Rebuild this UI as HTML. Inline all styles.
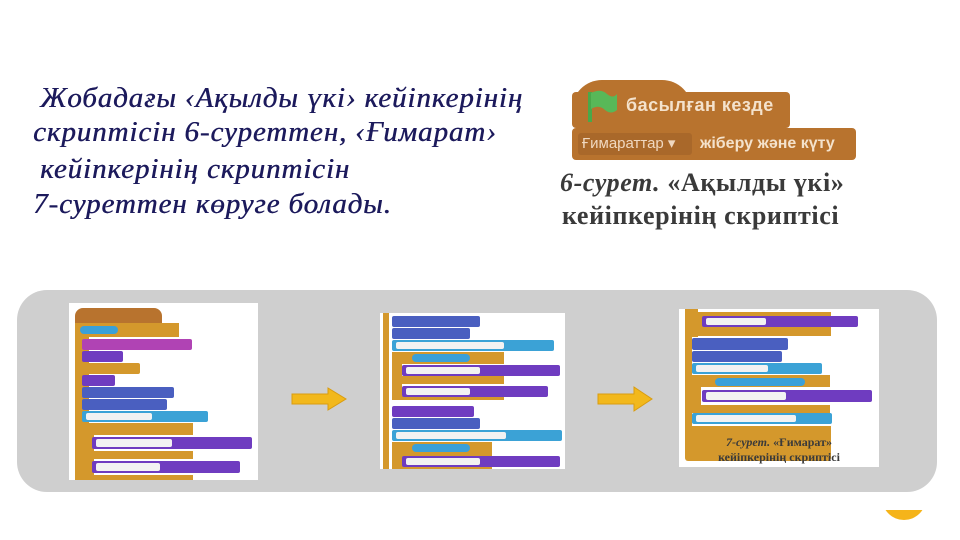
<!DOCTYPE html>
<html><head><meta charset="utf-8"><style>
body{margin:0;width:960px;height:540px;background:#fff;position:relative;overflow:hidden;font-family:"Liberation Sans",sans-serif}
div{position:absolute;box-sizing:border-box}
.t{font-family:"Liberation Serif",serif;font-style:italic;color:#1c1a5c;font-size:29px;white-space:nowrap;letter-spacing:0.9px;text-shadow:0.5px 0 0 #1c1a5c}
.b{border-radius:2px}
.o{background:#d4982c}.br{background:#b8732e}.p{background:#6f3cc0}.m{background:#b043b4}.bl{background:#4a5fc0}.lb{background:#3ba2d6}
.w{background:#f2f2f2;border-radius:2px}
.cap{font-family:"Liberation Serif",serif;color:#3a3a3a;white-space:nowrap}
</style></head><body>
<div class="t" style="left:40px;top:82px">Жобадағы ‹Ақылды үкі› кейіпкерінің</div>
<div class="t" style="left:33px;top:116px">скриптісін 6-суреттен, ‹Ғимарат›</div>
<div class="t" style="left:40px;top:153px">кейіпкерінің скриптісін</div>
<div class="t" style="left:33px;top:188px">7-суреттен көруге болады.</div>

<!-- top right blocks -->
<div style="left:572px;top:80px;width:120px;height:30px;background:#b8732e;border-radius:40px 40px 0 0"></div>
<div style="left:572px;top:92px;width:218px;height:36px;background:#b8732e;border-radius:4px"></div>
<svg style="position:absolute;left:585px;top:88px" width="34" height="36"><path d="M5 4 L5 34" stroke="#4aa84a" stroke-width="4"/><path d="M6 5 Q16 0 22 6 Q28 11 32 6 L32 22 Q26 27 20 22 Q14 16 6 21 Z" fill="#58b858"/></svg>
<div style="left:626px;top:95px;color:#f4e2cc;font-weight:bold;font-size:18px;letter-spacing:0.5px">басылған кезде</div>
<div style="left:572px;top:128px;width:284px;height:32px;background:#b8732e;border-radius:4px"></div>
<div style="left:578px;top:133px;width:114px;height:22px;background:#a9682a;border-radius:3px;color:#f0d8c0;font-size:15px;padding-left:4px;line-height:22px">Ғимараттар ▾</div>
<div style="left:700px;top:135px;color:#f4e2cc;font-weight:bold;font-size:16px">жіберу және күту</div>
<div class="cap" style="left:560px;top:168px;font-size:26px;font-weight:bold;letter-spacing:0.6px"><i>6-сурет.</i> «Ақылды үкі»</div>
<div class="cap" style="left:562px;top:201px;font-size:26px;font-weight:bold;letter-spacing:0.6px">кейіпкерінің скриптісі</div>

<!-- gray panel -->
<div style="left:17px;top:290px;width:920px;height:202px;background:#cfcfcf;border-radius:30px"></div>

<!-- panel1 -->
<div style="left:69px;top:303px;width:189px;height:177px;background:#fff"></div>
<div class="br" style="left:75px;top:308px;width:87px;height:15px;border-radius:8px 8px 0 0"></div>
<div class="o" style="left:75px;top:323px;width:104px;height:157px"></div>
<div style="left:82px;top:337px;width:97px;height:143px;background:#fff"></div>
<div class="o" style="left:82px;top:337px;width:7px;height:143px"></div>
<div style="left:80px;top:326px;width:38px;height:8px;background:#3aa0d8;border-radius:4px"></div>
<div class="m b" style="left:82px;top:339px;width:110px;height:11px"></div>
<div class="p b" style="left:82px;top:351px;width:41px;height:11px"></div>
<div class="o b" style="left:82px;top:363px;width:58px;height:11px"></div>
<div class="p b" style="left:82px;top:375px;width:33px;height:11px"></div>
<div class="bl b" style="left:82px;top:387px;width:92px;height:11px"></div>
<div class="bl b" style="left:82px;top:399px;width:85px;height:11px"></div>
<div class="lb b" style="left:82px;top:411px;width:126px;height:11px"></div>
<div class="w" style="left:86px;top:413px;width:66px;height:7px"></div>
<div class="o" style="left:82px;top:423px;width:111px;height:57px"></div>
<div style="left:92px;top:435px;width:101px;height:40px;background:#fff"></div>
<div class="o" style="left:89px;top:435px;width:5px;height:45px"></div>
<div class="o" style="left:89px;top:451px;width:104px;height:8px"></div>
<div class="p b" style="left:92px;top:437px;width:160px;height:12px"></div>
<div class="w" style="left:96px;top:439px;width:76px;height:8px"></div>
<div class="p b" style="left:92px;top:461px;width:148px;height:12px"></div>
<div class="w" style="left:96px;top:463px;width:64px;height:8px"></div>

<!-- arrow 1 -->
<svg style="position:absolute;left:290px;top:386px" width="60" height="26"><path d="M2 8 H38 V2 L56 13 L38 24 V18 H2 Z" fill="#f2b81c" stroke="#d99c10" stroke-width="1"/></svg>

<!-- panel2 -->
<div style="left:380px;top:313px;width:185px;height:156px;background:#fff"></div>
<div class="o" style="left:383px;top:313px;width:6px;height:156px"></div>
<div class="bl b" style="left:392px;top:316px;width:88px;height:11px"></div>
<div class="bl b" style="left:392px;top:328px;width:78px;height:11px"></div>
<div class="lb b" style="left:392px;top:340px;width:162px;height:11px"></div>
<div class="w" style="left:396px;top:342px;width:108px;height:7px"></div>
<div class="o" style="left:392px;top:352px;width:112px;height:48px"></div>
<div style="left:400px;top:364px;width:104px;height:32px;background:#fff"></div>
<div class="o" style="left:397px;top:364px;width:5px;height:36px"></div>
<div class="o" style="left:397px;top:376px;width:107px;height:8px"></div>
<div style="left:412px;top:354px;width:58px;height:8px;background:#3aa0d8;border-radius:4px"></div>
<div class="p b" style="left:402px;top:365px;width:158px;height:11px"></div>
<div class="w" style="left:406px;top:367px;width:74px;height:7px"></div>
<div class="p b" style="left:402px;top:386px;width:146px;height:11px"></div>
<div class="w" style="left:406px;top:388px;width:64px;height:7px"></div>
<div class="p b" style="left:392px;top:406px;width:82px;height:11px"></div>
<div class="bl b" style="left:392px;top:418px;width:88px;height:11px"></div>
<div class="lb b" style="left:392px;top:430px;width:170px;height:11px"></div>
<div class="w" style="left:396px;top:432px;width:110px;height:7px"></div>
<div class="o" style="left:392px;top:442px;width:100px;height:27px"></div>
<div style="left:412px;top:444px;width:58px;height:8px;background:#3aa0d8;border-radius:4px"></div>
<div class="p b" style="left:402px;top:456px;width:158px;height:11px"></div>
<div class="w" style="left:406px;top:458px;width:74px;height:7px"></div>

<!-- arrow 2 -->
<svg style="position:absolute;left:596px;top:385px" width="60" height="28"><path d="M2 9 H38 V2 L56 14 L38 26 V19 H2 Z" fill="#f2b81c" stroke="#d99c10" stroke-width="1"/></svg>

<!-- panel3 -->
<div style="left:679px;top:309px;width:200px;height:158px;background:#fff"></div>
<div class="o" style="left:685px;top:309px;width:146px;height:152px;border-radius:0 0 3px 3px"></div>
<div style="left:692px;top:336px;width:139px;height:90px;background:#fff"></div>
<div style="left:692px;top:309px;width:139px;height:3px;background:#fff"></div>
<div class="o" style="left:692px;top:309px;width:6px;height:28px"></div>
<div class="p b" style="left:702px;top:316px;width:156px;height:11px"></div>
<div class="w" style="left:706px;top:318px;width:60px;height:7px"></div>
<div class="bl b" style="left:692px;top:338px;width:96px;height:12px"></div>
<div class="bl b" style="left:692px;top:351px;width:90px;height:11px"></div>
<div class="lb b" style="left:692px;top:363px;width:130px;height:11px"></div>
<div class="w" style="left:696px;top:365px;width:72px;height:7px"></div>
<div class="o" style="left:692px;top:375px;width:138px;height:38px"></div>
<div style="left:701px;top:387px;width:129px;height:18px;background:#fff"></div>
<div style="left:715px;top:378px;width:90px;height:8px;background:#3aa0d8;border-radius:4px"></div>
<div class="p b" style="left:702px;top:390px;width:170px;height:12px"></div>
<div class="w" style="left:706px;top:392px;width:80px;height:8px"></div>
<div class="lb b" style="left:692px;top:413px;width:140px;height:11px"></div>
<div class="w" style="left:696px;top:415px;width:100px;height:7px"></div>
<div class="cap" style="left:679px;top:435px;width:200px;text-align:center;font-size:12px;font-weight:bold"><i>7-сурет.</i> «Ғимарат»</div>
<div class="cap" style="left:679px;top:450px;width:200px;text-align:center;font-size:12px;font-weight:bold">кейіпкерінің скриптісі</div>

<!-- orange partial circle -->
<div style="left:882px;top:492px;width:44px;height:28px;background:#f5b41a;border-radius:0 0 22px 22px;clip-path:inset(18px 0 0 0)"></div>
</body></html>
